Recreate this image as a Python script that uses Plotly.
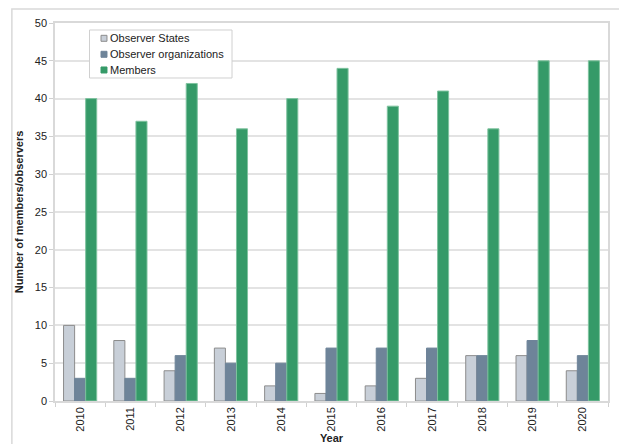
import plotly.graph_objs as go

years = ['2010', '2011', '2012', '2013', '2014', '2015', '2016', '2017', '2018', '2019', '2020']
observer_states = [10, 8, 4, 7, 2, 1, 2, 3, 6, 6, 4]
observer_orgs = [3, 3, 6, 5, 5, 7, 7, 7, 6, 8, 6]
members = [40, 37, 42, 36, 40, 44, 39, 41, 36, 45, 45]

series_names = ['Observer States', 'Observer organizations', 'Members']
fill_colors = ['#C8CFD8', '#6E8499', '#359A68']
edge_colors = ['#8C8C8C', '#6E8499', '#7FC39F']

fig = go.Figure()
for name, vals, fc, ec in zip(series_names, [observer_states, observer_orgs, members], fill_colors, edge_colors):
    fig.add_trace(go.Bar(x=years, y=vals, name=name, showlegend=False,
                         marker=dict(color=fc, line=dict(color=ec, width=1))))

# outer chart frame
fig.add_shape(type='rect', xref='paper', yref='paper',
              x0=-0.078, x1=1.1, y0=-0.2, y1=1.037,
              line=dict(color='#D9D9D9', width=1.5))

# legend drawn by hand (compact excel-like look)
fig.add_shape(type='rect', xref='paper', yref='paper',
              x0=0.0624, x1=0.3201, y0=0.8545, y1=0.9815,
              line=dict(color='#D0D0D0', width=1), fillcolor='white', layer='above')
row_y = [0.9595, 0.9172, 0.8757]
for name, fc, ec, yy in zip(series_names, fill_colors, edge_colors, row_y):
    sq_edge = '#8C8C8C' if name == 'Observer States' else fc
    fig.add_shape(type='rect', xref='paper', yref='paper',
                  x0=0.0832, x1=0.0940, y0=yy - 0.0079, y1=yy + 0.0079,
                  line=dict(color=sq_edge, width=1), fillcolor=fc, layer='above')
    fig.add_annotation(x=0.0958, y=yy, xref='paper', yref='paper', text=name,
                       showarrow=False, xanchor='left', yanchor='middle',
                       font=dict(size=11, color='#222222'))

fig.update_layout(
    width=619, height=444,
    margin=dict(l=55, r=11, t=23, b=43),
    paper_bgcolor='white', plot_bgcolor='white',
    font=dict(family='Liberation Sans, Arial', size=11, color='#222222'),
    barmode='group', bargap=0.34, bargroupgap=0,
    showlegend=False,
    xaxis=dict(title=dict(text='<b>Year</b>', standoff=2, font=dict(size=11)),
               automargin=False,
               tickangle=-90, ticks='outside', tickson='boundaries', ticklen=4,
               tickcolor='#D0D0D0', showline=True, linecolor='#D9D9D9', linewidth=1.5,
               mirror=True),
    yaxis=dict(title=dict(text='<b>Number of members/observers</b>', standoff=9, font=dict(size=11)),
               automargin=False,
               range=[0, 50], dtick=5, showgrid=True, gridcolor='#E3E3E3', gridwidth=1.5,
               ticks='outside', ticklen=4, tickcolor='#D0D0D0',
               showline=True, linecolor='#D9D9D9', linewidth=1.5, mirror=True,
               zeroline=False),
)

fig.write_html("out.html", config={'displayModeBar': False},
               post_script="document.body.style.margin='0';")
